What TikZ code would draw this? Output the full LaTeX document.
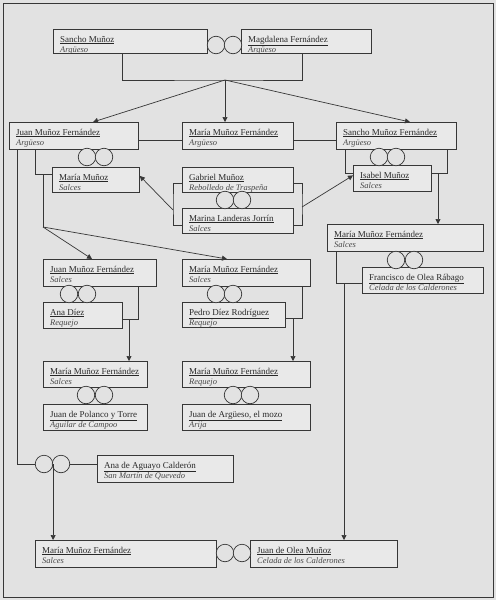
\documentclass[tikz,border=0pt]{standalone}
\usepackage{fontspec}
\setmainfont{Liberation Serif}
\usetikzlibrary{arrows.meta,calc}
\definecolor{bgc}{RGB}{226,226,226}
\definecolor{boxc}{RGB}{233,233,233}
\definecolor{linec}{RGB}{55,55,55}
\definecolor{textc}{RGB}{40,40,40}
\tikzset{
 pbox/.style={draw=linec, line width=0.8pt, fill=boxc, anchor=north west, inner sep=0pt},
 pname/.style={anchor=base west, inner sep=0pt, text=textc, font=\fontsize{9}{10.5}\selectfont},
 pplace/.style={anchor=base west, inner sep=0pt, text=textc!85, font=\fontsize{8.5}{9}\selectfont\itshape},
 ring/.style={circle, draw=linec, line width=0.7pt, fill=bgc, minimum size=17.5pt, inner sep=0pt},
 link/.style={draw=linec, line width=0.7pt},
 arr/.style={link, -{Triangle[length=5pt,width=5pt]}},
}
\newcommand\Pers[7]{%
 \pgfmathsetmacro\PW{#4-#2}\pgfmathsetmacro\PH{#5-#3}%
 \node[pbox, minimum width=\PW pt, minimum height=\PH pt] (#1) at (#2,#3) {};
 \node[pname] (#1n) at ($(#1.north west)+(7,13)$) {\underline{#6}};
 \node[pplace] (#1p) at ($(#1.north west)+(7,23.3)$) {#7};}
\begin{document}
\begin{tikzpicture}[x=1pt,y=-1pt]
\useasboundingbox (0,0) rectangle (496,600);
\fill[bgc] (0,0) rectangle (496,600);
\node[draw=linec, line width=1pt, minimum width=490pt, minimum height=594pt, anchor=north west, inner sep=0pt] (frame) at (3,3) {};

% persons
\Pers{sm}{53}{29}{207}{53}{Sancho Muñoz}{Argüeso}
\Pers{mf}{241}{29}{371}{53}{Magdalena Fernández}{Argüeso}
\Pers{jmf}{9}{122}{138}{149}{Juan Muñoz Fernández}{Argüeso}
\Pers{mmfa}{182}{122}{293}{149}{María Muñoz Fernández}{Argüeso}
\Pers{smf}{336}{122}{456}{149}{Sancho Muñoz Fernández}{Argüeso}
\Pers{mm}{52}{167}{139}{192}{María Muñoz}{Salces}
\Pers{gm}{182}{167}{293}{192}{Gabriel Muñoz}{Rebolledo de Traspeña}
\Pers{ml}{182}{208}{293}{233}{Marina Landeras Jorrín}{Salces}
\Pers{im}{353}{165}{431}{191}{Isabel Muñoz}{Salces}
\Pers{mmfs3}{327}{224}{483}{251}{María Muñoz Fernández}{Salces}
\Pers{fo}{362}{267}{483}{293}{Francisco de Olea Rábago}{Celada de los Calderones}
\Pers{jmfs}{43}{259}{156}{286}{Juan Muñoz Fernández}{Salces}
\Pers{ad}{43}{302}{122}{328}{Ana Díez}{Requejo}
\Pers{mmfs2}{182}{259}{310}{286}{María Muñoz Fernández}{Salces}
\Pers{pd}{182}{302}{285}{327}{Pedro Díez Rodríguez}{Requejo}
\Pers{mmfs4}{43}{361}{147}{387}{María Muñoz Fernández}{Salces}
\Pers{jp}{43}{404}{147}{430}{Juan de Polanco y Torre}{Aguilar de Campoo}
\Pers{mmfr}{182}{361}{310}{387}{María Muñoz Fernández}{Requejo}
\Pers{ja}{182}{404}{310}{430}{Juan de Argüeso, el mozo}{Arija}
\Pers{aa}{97}{455}{233}{482}{Ana de Aguayo Calderón}{San Martín de Quevedo}
\Pers{mmfs5}{35}{540}{216}{567}{María Muñoz Fernández}{Salces}
\Pers{jo}{250}{540}{397}{567}{Juan de Olea Muñoz}{Celada de los Calderones}

% marriage rings
\node[ring] (r1a) at (216,45) {}; \node[ring] (r1b) at (233,45) {};
\node[ring] (r2a) at (87,157) {}; \node[ring] (r2b) at (104,157) {};
\node[ring] (r3a) at (225,200) {}; \node[ring] (r3b) at (242,200) {};
\node[ring] (r4a) at (379,157) {}; \node[ring] (r4b) at (396,157) {};
\node[ring] (r5a) at (396,260) {}; \node[ring] (r5b) at (414,260) {};
\node[ring] (r6a) at (69,294) {}; \node[ring] (r6b) at (87,294) {};
\node[ring] (r7a) at (216,294) {}; \node[ring] (r7b) at (233,294) {};
\node[ring] (r8a) at (86,395) {}; \node[ring] (r8b) at (104,395) {};
\node[ring] (r9a) at (233,395) {}; \node[ring] (r9b) at (250,395) {};
\node[ring] (r10a) at (44,464) {}; \node[ring] (r10b) at (61,464) {};
\node[ring] (r11a) at (225,553) {}; \node[ring] (r11b) at (242,553) {};

% hubs
\coordinate (h1) at (225,80);
\coordinate (sib) at (0,140);
\coordinate (h2) at (43,174);
\coordinate (h2b) at (43,227);
\coordinate (h3l) at (173,204);
\coordinate (h3r) at (302,204);
\coordinate (a3l) at (173,210);
\coordinate (a3r) at (302,207);
\coordinate (h4) at (438,173);
\coordinate (h5) at (344,283);
\coordinate (h6) at (129,319);
\coordinate (h7) at (293,318);

% Sancho + Magdalena
\draw[link] ([xshift=69pt]sm.south west) |- (h1) -| ([xshift=61pt]mf.south west);
\draw[arr] (h1) -- ([xshift=84pt]jmf.north west);
\draw[arr] (h1) -- (h1 |- mmfa.north);
\draw[arr] (h1) -- ([xshift=74pt]smf.north west);
\draw[link] (jmf.east |- sib) -- (mmfa.west |- sib);
\draw[link] (mmfa.east |- sib) -- (smf.west |- sib);

% Juan + Maria Munoz
\draw[link] ([xshift=26pt]jmf.south west) |- (mm.west |- h2);
\draw[link] (h2) -- (h2b);
\draw[arr] (h2b) -- ([xshift=49pt]jmfs.north west);
\draw[arr] (h2b) -- ([xshift=45pt]mmfs2.north west);

% Juan + Ana de Aguayo
\draw[link] ([xshift=8pt]jmf.south west) |- (r10a.west);
\draw[link] (r10b.east) -- (r10b.east -| aa.west);
\draw[arr] (r10a.east) -- (r10a.east |- mmfs5.north);

% Gabriel + Marina
\draw[link] ([yshift=-16pt]gm.north west) -| (h3l) |- ([yshift=-17pt]ml.north west);
\draw[link] ([yshift=-16pt]gm.north east) -| (h3r) |- ([yshift=-17pt]ml.north east);
\draw[arr] (a3l) -- ([yshift=4pt]mm.east);
\draw[arr] (a3r) -- ([yshift=3pt]im.west);

% Sancho + Isabel
\draw[link] ([xshift=9pt]smf.south west) |- (im.west |- h4);
\draw[link] ([xshift=-9pt]smf.south east) |- (im.east |- h4);
\draw[arr] (h4) -- (h4 |- mmfs3.north);

% Maria + Francisco
\draw[link] ([xshift=9pt]mmfs3.south west) |- (fo.west |- h5);
\draw[arr] (h5) -- (h5 |- jo.north);

% Juan + Ana Diez
\draw[link] ([xshift=-18pt]jmfs.south east) |- (ad.east |- h6);
\draw[arr] (h6) -- (h6 |- mmfs4.north);

% Maria + Pedro
\draw[link] ([xshift=-8pt]mmfs2.south east) |- (pd.east |- h7);
\draw[arr] (h7) -- (h7 |- mmfr.north);
\end{tikzpicture}
\end{document}
